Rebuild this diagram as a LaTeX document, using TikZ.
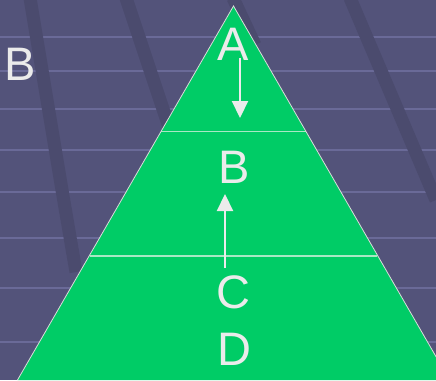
\documentclass[tikz,border=0pt]{standalone}
\usepackage{fontspec}
\setmainfont{Liberation Sans}
\usetikzlibrary{arrows.meta}
\definecolor{bgc}{HTML}{53537A}
\definecolor{bandc}{HTML}{4B4B6E}
\definecolor{hlinec}{HTML}{6A6A98}
\definecolor{pgreen}{HTML}{00CC66}
\definecolor{txtc}{HTML}{EBEBEB}
\definecolor{sepc}{HTML}{A8E8C4}
\tikzset{
  lbl/.style={text=txtc, font=\fontsize{47}{47}\selectfont, inner sep=0pt, anchor=base},
  hline/.style={hlinec, line width=2pt},
  band/.style={bandc, line width=13pt},
  sepline/.style={sepc, line width=1.5pt},
  arr/.style={txtc, line width=2.2pt, -{Triangle[width=16pt,length=17pt]}}
}
\begin{document}
\begin{tikzpicture}[x=1pt,y=-1pt]
\useasboundingbox (0,0) rectangle (436,380);
\fill[bgc] (0,0) rectangle (436,380);
% horizontal lines
\foreach \yy in {37,71,109,150,192,238,288,342}
  \draw[hline] (0,\yy) -- (436,\yy);
% diagonal bands
\begin{scope}
\clip (0,0) rectangle (436,380);
\draw[band] (30,-2) -- (62,190) -- (76,272);
\draw[band] (126,-2) -- (170,130);
\draw[band] (233,-2) -- (255,45);
\draw[band] (350,-2) -- (436,200);
\end{scope}
% pyramid
\coordinate (apex) at (233.5,6);
\coordinate (bl) at (17.5,380);
\coordinate (br) at (449.5,380);
\fill[pgreen] (apex) -- (br) -- (bl) -- cycle;
\draw[sepline] (161,131.5) -- (306,131.5);
\draw[sepline] (90,256) -- (377,256);
\draw[txtc!85!gray, line width=0.8pt] (bl) -- (apex) -- (br);
% labels
\node[lbl] (A) at (233,60) {A};
\node[lbl] (B) at (234.5,183) {B};
\node[lbl] (C) at (233,308) {C};
\node[lbl] (D) at (234,365) {D};
\node[lbl] (Bside) at (20.5,80) {B};
% arrows
\coordinate (a1) at (240,58);
\coordinate (a2) at (240,118);
\coordinate (c1) at (225,268);
\coordinate (c2) at (225,194);
\draw[arr] (a1) -- (a2);
\draw[arr] (c1) -- (c2);
\end{tikzpicture}
\end{document}
